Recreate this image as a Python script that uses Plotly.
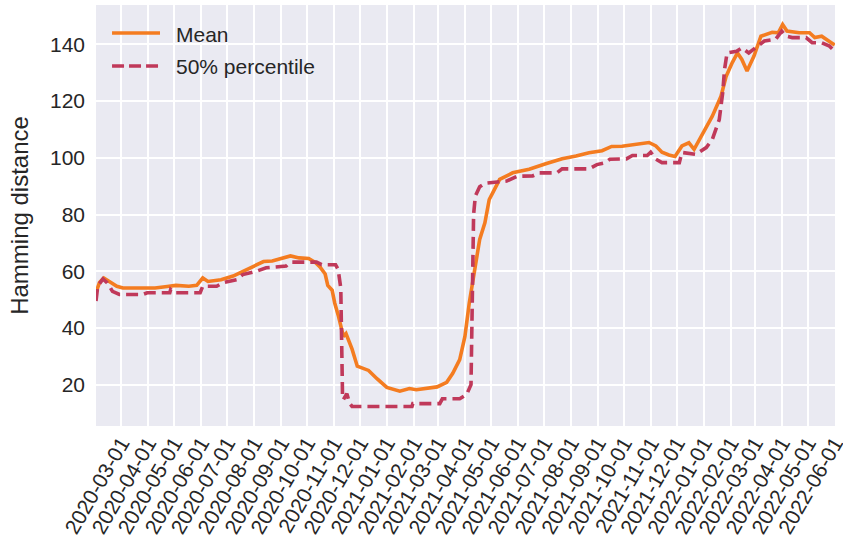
import pandas as pd
import plotly.graph_objects as go

# Daily Hamming distance statistics (sampled at change points)
mean_dates = [
    "2020-02-01", "2020-02-05", "2020-02-10", "2020-02-17", "2020-02-25", "2020-03-03",
    "2020-03-19", "2020-04-09", "2020-04-23", "2020-05-03", "2020-05-18", "2020-05-27",
    "2020-06-03", "2020-06-09", "2020-06-24", "2020-07-08", "2020-07-17", "2020-07-29",
    "2020-08-12", "2020-08-22", "2020-09-07", "2020-09-12", "2020-09-22", "2020-10-03",
    "2020-10-11", "2020-10-16", "2020-10-22", "2020-10-25", "2020-10-30", "2020-11-02",
    "2020-11-06", "2020-11-12", "2020-11-15", "2020-11-17", "2020-11-22", "2020-11-28",
    "2020-12-04", "2020-12-11", "2020-12-21", "2021-01-01", "2021-01-16", "2021-01-27",
    "2021-02-04", "2021-02-28", "2021-03-11", "2021-03-18", "2021-03-26", "2021-04-01",
    "2021-04-06", "2021-04-12", "2021-04-18", "2021-04-24", "2021-04-29", "2021-05-03",
    "2021-05-11", "2021-05-26", "2021-06-14", "2021-07-04", "2021-07-22", "2021-08-07",
    "2021-08-22", "2021-09-06", "2021-09-17", "2021-09-29", "2021-10-15", "2021-10-30",
    "2021-11-07", "2021-11-14", "2021-11-22", "2021-11-29", "2021-12-07", "2021-12-15",
    "2021-12-21", "2022-01-02", "2022-01-11", "2022-01-21", "2022-01-27", "2022-02-03",
    "2022-02-09", "2022-02-14", "2022-02-20", "2022-02-28", "2022-03-08", "2022-03-21",
    "2022-03-28", "2022-04-02", "2022-04-07", "2022-04-21", "2022-05-03", "2022-05-09",
    "2022-05-17", "2022-05-28", "2022-06-01",
]
mean_values = [
    52.5, 56.0, 57.6, 56.3, 54.7, 54.1,
    54.0, 54.1, 54.6, 55.0, 54.7, 55.0,
    57.6, 56.4, 57.0, 58.3, 59.6, 61.5,
    63.4, 63.6, 65.0, 65.4, 64.7, 64.5,
    63.0, 61.5, 59.0, 55.0, 53.3, 48.8,
    44.5, 37.0, 38.0, 36.5, 32.5, 26.5,
    25.9, 25.0, 22.0, 19.0, 17.7, 18.6,
    18.2, 19.2, 20.8, 24.0, 28.8, 37.0,
    48.8, 59.4, 71.2, 77.1, 85.3, 87.6,
    92.4, 94.7, 96.0, 98.0, 99.7, 100.6,
    101.8, 102.5, 104.0, 104.1, 104.9, 105.4,
    104.2, 102.0, 101.0, 100.5, 104.2, 105.3,
    103.0, 110.0, 114.7, 121.7, 128.8, 133.6,
    137.0, 134.7, 130.6, 135.9, 142.9, 144.3,
    144.1, 147.0, 144.7, 144.1, 144.1, 142.4,
    142.9, 140.6, 139.8,
]

median_dates = [
    "2020-02-01", "2020-02-03", "2020-02-09", "2020-02-14", "2020-02-20", "2020-02-28",
    "2020-03-26", "2020-03-31", "2020-04-26", "2020-04-27", "2020-05-01", "2020-05-31",
    "2020-06-03", "2020-06-19", "2020-06-26", "2020-07-12", "2020-07-19", "2020-08-04",
    "2020-08-15", "2020-09-07", "2020-09-10", "2020-09-14", "2020-10-12", "2020-10-18",
    "2020-11-03", "2020-11-06", "2020-11-09", "2020-11-10", "2020-11-11", "2020-11-12",
    "2020-11-16", "2020-11-19", "2020-11-22", "2021-01-30", "2021-01-31", "2021-03-03",
    "2021-03-06", "2021-03-26", "2021-04-03", "2021-04-08", "2021-04-10", "2021-04-11",
    "2021-04-13", "2021-04-18", "2021-04-24", "2021-05-19", "2021-05-31", "2021-06-18",
    "2021-06-26", "2021-07-16", "2021-07-22", "2021-08-22", "2021-08-31", "2021-09-09",
    "2021-09-15", "2021-10-04", "2021-10-11", "2021-10-28", "2021-11-01", "2021-11-07",
    "2021-11-14", "2021-12-04", "2021-12-07", "2021-12-23", "2022-01-04", "2022-01-11",
    "2022-01-19", "2022-01-23", "2022-01-25", "2022-01-28", "2022-02-08", "2022-02-14",
    "2022-02-22", "2022-03-04", "2022-03-12", "2022-03-25", "2022-04-01", "2022-04-06",
    "2022-04-13", "2022-04-29", "2022-05-06", "2022-05-17", "2022-05-26", "2022-06-01",
]
median_values = [
    49.5, 54.7, 57.3, 55.9, 52.9, 51.8,
    51.8, 52.4, 52.4, 53.5, 52.4, 52.4,
    54.7, 54.7, 55.9, 57.0, 58.8, 60.0,
    61.2, 61.8, 62.7, 63.2, 63.2, 62.3,
    62.3, 60.6, 54.0, 30.0, 16.0, 14.7,
    16.8, 13.5, 12.3, 12.3, 13.3, 13.3,
    15.0, 15.0, 16.5, 20.0, 50.0, 80.0,
    86.5, 89.8, 91.0, 91.8, 93.5, 93.6,
    94.7, 94.7, 96.1, 96.1, 97.6, 98.2,
    99.5, 99.6, 100.8, 100.8, 102.0, 99.5,
    98.3, 98.3, 101.9, 101.2, 103.6, 106.5,
    113.5, 123.0, 131.0, 137.0, 137.6, 138.8,
    137.0, 139.4, 141.2, 141.8, 144.7, 142.9,
    142.4, 142.4, 140.6, 140.6, 139.4, 137.6,
]

tick_dates = pd.date_range("2020-03-01", "2022-06-01", freq="MS")
tick_labels = [d.strftime("%Y-%m-%d") for d in tick_dates]

series_names = ["Mean", "50% percentile"]
series_colors = ["#f47c20", "#c0395a"]

TEXT = "#262626"
FONT = "Liberation Sans, Arial, sans-serif"

fig = go.Figure()
fig.add_trace(go.Scatter(
    x=pd.to_datetime(mean_dates), y=mean_values, mode="lines", name=series_names[0],
    line=dict(color=series_colors[0], width=3.6), showlegend=False,
))
fig.add_trace(go.Scatter(
    x=pd.to_datetime(median_dates), y=median_values, mode="lines", name=series_names[1],
    line=dict(color=series_colors[1], width=3.6, dash="12px,6px"), showlegend=False,
))

# Legend drawn inside the axes (upper left), no frame
legend_rows = [(0.9335, 0.931), (0.855, 0.853)]
for (ly, ty), name, color, dash in zip(legend_rows, series_names, series_colors, ["solid", "12px,5px"]):
    fig.add_shape(type="line", xref="paper", yref="paper", x0=0.0217, x1=0.0866, y0=ly, y1=ly,
                  line=dict(color=color, width=3.6, dash=dash))
    fig.add_annotation(xref="paper", yref="paper", x=0.1056, y=ty, text=name, showarrow=False,
                       xanchor="left", yanchor="middle", font=dict(family=FONT, size=21, color=TEXT))

fig.update_layout(
    width=843, height=549,
    margin=dict(l=96, r=8, t=5, b=123, autoexpand=False),
    paper_bgcolor="white", plot_bgcolor="#eaeaf2",
    font=dict(family=FONT, size=21, color=TEXT),
)
fig.update_xaxes(
    range=["2020-02-01", "2022-06-01 08:00"],
    tickvals=tick_dates, ticktext=tick_labels, tickangle=-60,
    ticklabeloverflow="allow", automargin=False,
    showgrid=True, gridcolor="white", gridwidth=2, zeroline=False,
    showline=False, ticks="", tickfont=dict(size=21, color=TEXT),
)
fig.update_yaxes(
    range=[5.4, 153.9], tickvals=[20, 40, 60, 80, 100, 120, 140],
    automargin=False,
    showgrid=True, gridcolor="white", gridwidth=2, zeroline=False,
    showline=False, ticks="", ticklabelstandoff=10, tickfont=dict(size=21, color=TEXT),
    title=dict(text="Hamming distance", font=dict(size=24, color=TEXT), standoff=14),
)

fig.write_html("out.html")
